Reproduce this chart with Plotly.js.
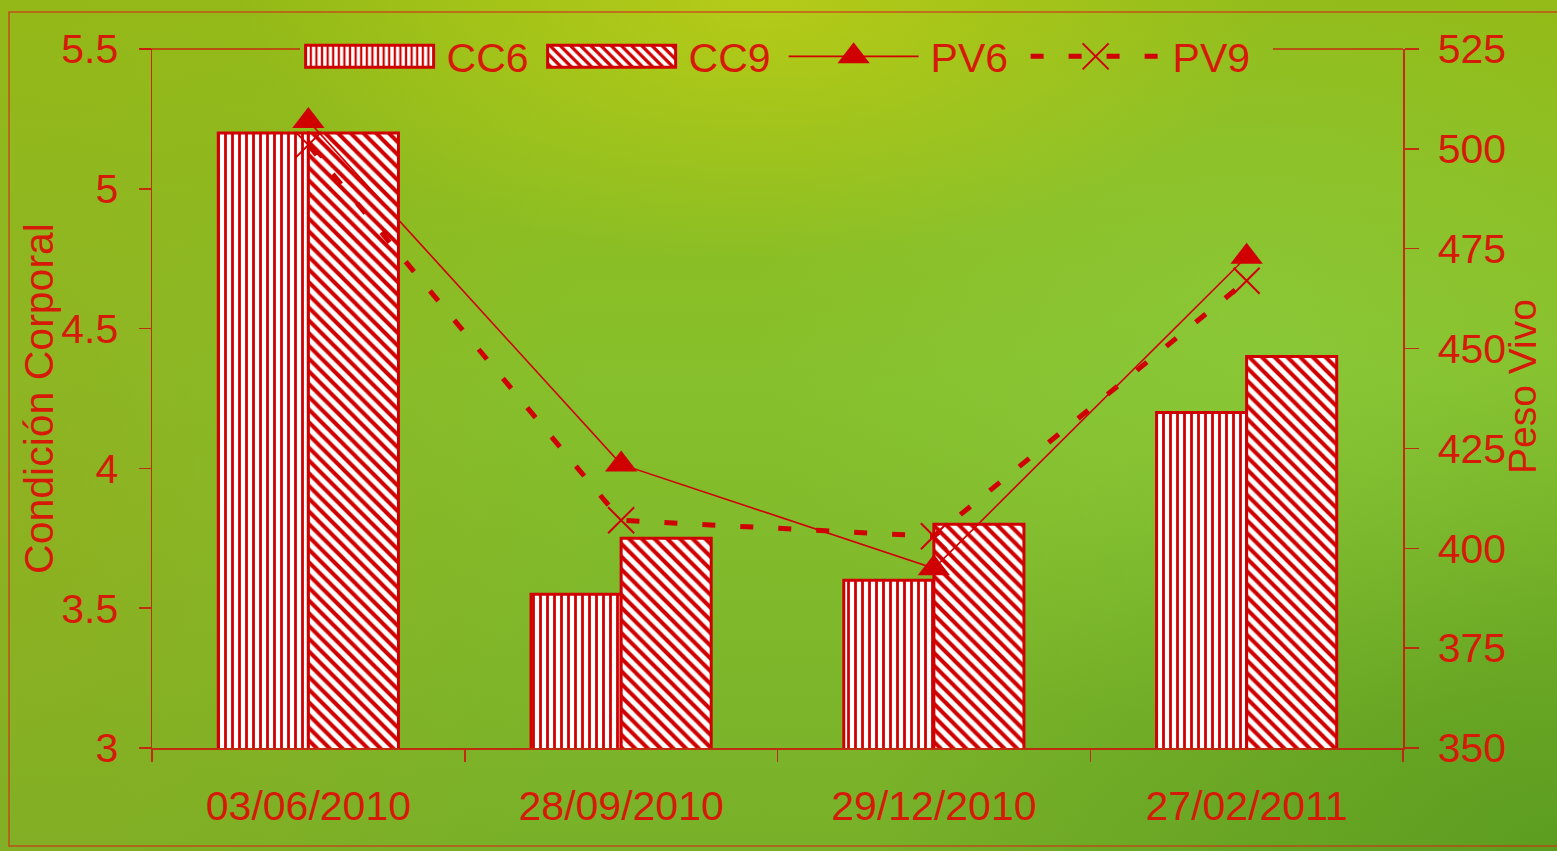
<!DOCTYPE html>
<html>
<head>
<meta charset="utf-8">
<script src="https://cdn.plot.ly/plotly-3.0.1.min.js"></script>
<style>
  html, body { margin: 0; padding: 0; }
  body {
    width: 1557px; height: 851px; overflow: hidden;
    background:
      radial-gradient(ellipse 520px 260px at 760px 0px, rgba(195,210,25,0.7), rgba(195,210,25,0) 100%),
      radial-gradient(ellipse 500px 400px at 1250px 330px, rgba(140,205,65,0.55), rgba(140,205,65,0) 100%),
      radial-gradient(ellipse 700px 500px at 1557px 851px, rgba(80,148,28,0.7), rgba(80,148,28,0) 100%),
      radial-gradient(ellipse 600px 700px at 0px 500px, rgba(150,170,25,0.6), rgba(150,170,25,0) 100%),
      linear-gradient(to bottom, #94bb17 0%, #86c02c 45%, #78b029 100%);
  }
  #chart { width: 1557px; height: 851px; }
</style>
</head>
<body>
<div id="chart"></div>
<script>
// Fechas de muestreo
const fechas = ['03/06/2010', '28/09/2010', '29/12/2010', '27/02/2011'];
// Condición corporal (eje izquierdo)
const cc6 = [5.2, 3.55, 3.6, 4.2];
const cc9 = [5.2, 3.75, 3.8, 4.4];
// Peso vivo (eje derecho)
const pv6 = [507, 421, 395, 473];
const pv9 = [501, 407, 403, 467];
// Ticks
const ccTicks = [3, 3.5, 4, 4.5, 5, 5.5];
const ccTickText = ['3', '3.5', '4', '4.5', '5', '5.5'];
const pvTicks = [350, 375, 400, 425, 450, 475, 500, 525];

const ROJO = '#d00000';
const TEXTO = '#d61a08';
const EJE = 'rgba(205,20,10,0.85)';
const FONT = 'Liberation Sans, Arial, sans-serif';
const FS = 41;

const traces = [
  {
    type: 'bar', name: 'CC6', x: fechas, y: cc6, xaxis: 'x', yaxis: 'y',
    marker: {
      color: 'white',
      line: { color: ROJO, width: 3 },
      pattern: { shape: '|', fgcolor: ROJO, bgcolor: 'white', size: 7, solidity: 0.4, fillmode: 'replace' }
    }
  },
  {
    type: 'bar', name: 'CC9', x: fechas, y: cc9, xaxis: 'x', yaxis: 'y',
    marker: {
      color: 'white',
      line: { color: ROJO, width: 3 },
      pattern: { shape: '\\', fgcolor: ROJO, bgcolor: 'white', size: 9, solidity: 0.45, fillmode: 'replace' }
    }
  },
  {
    type: 'scatter', mode: 'lines+markers', name: 'PV6', x: fechas, y: pv6, xaxis: 'x', yaxis: 'y2',
    line: { color: ROJO, width: 1.6 },
    marker: { symbol: 'triangle-up', size: 28, color: ROJO }
  },
  {
    type: 'scatter', mode: 'lines+markers', name: 'PV9', x: fechas, y: pv9, xaxis: 'x', yaxis: 'y2',
    line: { color: ROJO, width: 5, dash: '13px,25px' },
    marker: { symbol: 'x-thin-open', size: 26, color: ROJO, line: { color: ROJO, width: 2 } }
  }
];

const tickFont = { family: FONT, size: FS, color: TEXTO };

const layout = {
  width: 1557, height: 851,
  margin: { l: 152, r: 154, t: 49, b: 103, pad: 0 },
  paper_bgcolor: 'rgba(0,0,0,0)',
  plot_bgcolor: 'rgba(0,0,0,0)',
  barmode: 'group',
  bargap: 0.424,
  bargroupgap: 0,
  showlegend: true,
  legend: {
    orientation: 'h', x: 0.118, xanchor: 'left', y: 0.989, yanchor: 'middle',
    font: { family: FONT, size: FS, color: TEXTO },
    bgcolor: 'rgba(0,0,0,0)', itemwidth: 130, entrywidth: 97, entrywidthmode: 'pixels',
    traceorder: 'normal'
  },
  xaxis: {
    type: 'category', range: [-0.5, 3.5], fixedrange: true,
    showline: true, linecolor: EJE, linewidth: 1.5,
    ticks: 'outside', tickson: 'boundaries', ticklen: 12, tickwidth: 1.5, tickcolor: EJE,
    tickfont: tickFont, ticklabelstandoff: 21,
    showgrid: false, zeroline: false
  },
  xaxis2: {
    overlaying: 'x', anchor: 'y', range: [-0.5, 3.5], fixedrange: true,
    tickvals: [-0.5, 0.5, 1.5, 2.5, 3.5], ticks: 'inside', ticklen: 11, tickwidth: 1.5, tickcolor: EJE,
    showticklabels: false, showline: false, showgrid: false, zeroline: false, side: 'bottom'
  },
  yaxis: {
    range: [3, 5.5], fixedrange: true,
    tickvals: ccTicks, ticktext: ccTickText,
    showline: true, linecolor: EJE, linewidth: 1.5,
    ticks: 'outside', ticklen: 12, tickwidth: 1.5, tickcolor: EJE,
    tickfont: tickFont, ticklabelstandoff: 12,
    showgrid: false, zeroline: false,
    title: { text: 'Condición Corporal', font: { family: FONT, size: FS, color: TEXTO }, standoff: 2 }
  },
  yaxis3: {
    overlaying: 'y', anchor: 'x', side: 'left', range: [3, 5.5], fixedrange: true,
    tickvals: ccTicks, ticks: 'inside', ticklen: 12, tickwidth: 1.5, tickcolor: EJE,
    showticklabels: false, showline: false, showgrid: false, zeroline: false
  },
  yaxis2: {
    overlaying: 'y', side: 'right', anchor: 'x', range: [350, 525], fixedrange: true,
    tickvals: pvTicks,
    showline: true, linecolor: EJE, linewidth: 1.5,
    ticks: 'outside', ticklen: 14, tickwidth: 1.5, tickcolor: EJE,
    tickfont: tickFont, ticklabelstandoff: 11,
    showgrid: false, zeroline: false,
    title: { text: 'Peso Vivo', font: { family: FONT, size: 39, color: TEXTO }, standoff: 0 }
  },
  yaxis4: {
    overlaying: 'y', side: 'right', anchor: 'x', range: [350, 525], fixedrange: true,
    tickvals: pvTicks, ticks: 'inside', ticklen: 14, tickwidth: 1.5, tickcolor: EJE,
    showticklabels: false, showline: false, showgrid: false, zeroline: false
  },
  shapes: [
    // marco exterior
    { type: 'rect', xref: 'paper', yref: 'paper', x0: -0.1143, x1: 1.1255, y0: -0.1402, y1: 1.0529,
      line: { color: 'rgba(205,50,20,0.75)', width: 1.5 }, fillcolor: 'rgba(0,0,0,0)' },
    // borde superior del área de trazado, interrumpido por la leyenda
    { type: 'line', xref: 'paper', yref: 'paper', x0: -0.01, x1: 0.1183, y0: 1, y1: 1,
      line: { color: EJE, width: 1.5 } },
    { type: 'line', xref: 'paper', yref: 'paper', x0: 0.896, x1: 1, y0: 1, y1: 1,
      line: { color: EJE, width: 1.5 } }
  ]
};

function shift(el, dx, dy) {
  if (!el) return;
  const prev = el.getAttribute('transform') || '';
  el.setAttribute('transform', `translate(${dx},${dy}) ${prev}`);
}

Plotly.newPlot('chart', traces, layout, { displayModeBar: false, staticPlot: true }).then(gd => {
  const lineTraces = gd.querySelectorAll('.scatterlayer .trace');
  gd.querySelectorAll('.legend .traces').forEach((g, i) => {
    // separación entre muestra y texto
    const txt = g.querySelector('text.legendtext');
    if (txt) txt.setAttribute('x', parseFloat(txt.getAttribute('x') || 0) + 7);
    if (i < 2) {
      // muestras de barra: rectángulos anchos
      g.querySelectorAll('.legendpoints path').forEach(p => p.setAttribute('d', 'M-64,11H64V-11H-64Z'));
    } else {
      // marcadores de la leyenda al mismo tamaño que en el gráfico
      const src = lineTraces[i - 2] && lineTraces[i - 2].querySelector('.points path');
      const dst = g.querySelector('.legendpoints path.scatterpts');
      if (src && dst) {
        dst.setAttribute('d', src.getAttribute('d'));
        dst.setAttribute('style', src.getAttribute('style'));
      }
    }
  });
  // posición de los títulos de los ejes
  shift(gd.querySelector('.g-ytitle'), 7, 0);
  shift(gd.querySelector('.g-y2title'), -5, -12);
});
</script>
</body>
</html>
